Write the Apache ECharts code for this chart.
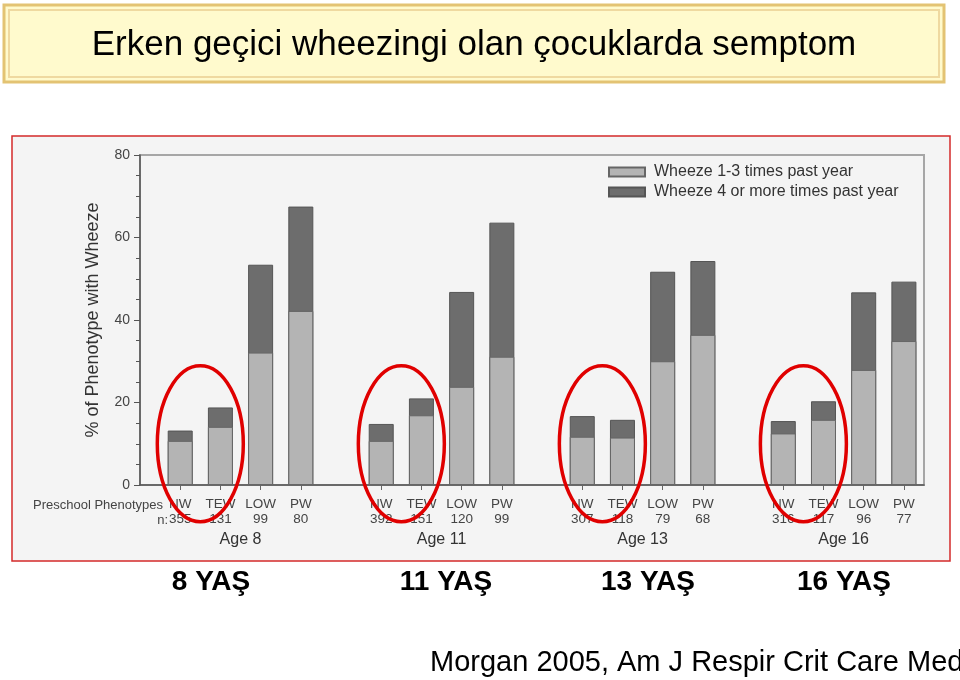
<!DOCTYPE html>
<html><head><meta charset="utf-8">
<script src="https://cdn.jsdelivr.net/npm/echarts@6/dist/echarts.min.js"></script>
<style>html,body{margin:0;padding:0;background:#fff}#c{width:960px;height:680px}</style>
</head><body><div id="c"></div>
<script>
const phenotypes = ['NW', 'TEW', 'LOW', 'PW'];
const ageLabels = ['Age 8', 'Age 11', 'Age 13', 'Age 16'];
const ageTitles = ['8 YAŞ', '11 YAŞ', '13 YAŞ', '16 YAŞ'];
const groupN = [[355, 131, 99, 80], [392, 151, 120, 99], [307, 118, 79, 68], [316, 117, 96, 77]];
const wheeze1to3 = [[10.7, 14.1, 32.1, 42.2], [10.7, 16.9, 23.8, 31.1], [11.7, 11.5, 30.0, 36.4], [12.5, 15.8, 27.9, 34.9]];
const wheeze4plus = [[2.5, 4.7, 21.3, 25.3], [4.1, 4.1, 23.0, 32.5], [5.0, 4.3, 21.7, 17.9], [3.0, 4.5, 18.8, 14.4]];
const seriesNames = ['Wheeze 1-3 times past year', 'Wheeze 4 or more times past year'];
const yTicks = [0, 20, 40, 60, 80];

// slot positions on the x axis: 4 bars per age group, one empty slot between groups
const slots = [], labelBySlot = {}, groupCenters = [];
const dLight = [], dTotal = [];
for (let g = 0; g < 4; g++) {
  for (let i = 0; i < 4; i++) {
    const s = g * 5 + i + 1;
    slots.push(s);
    labelBySlot[s] = phenotypes[i] + '\n' + groupN[g][i];
    dLight.push([s, wheeze1to3[g][i]]);
    // the "4 or more" segment sits on top of the "1-3" segment
    dTotal.push([s, +(wheeze1to3[g][i] + wheeze4plus[g][i]).toFixed(1)]);
  }
  groupCenters.push(g * 5 + 2.5);
}

const chart = echarts.init(document.getElementById('c'), null, {renderer: 'canvas'});
const FONT = 'Liberation Sans, Arial, sans-serif';

const staticGraphic = [
  {type: 'rect', id: 'bg', z: -10, shape: {x: 12, y: 136, width: 938, height: 425},
   style: {fill: '#f4f4f4', stroke: '#d42a2a', lineWidth: 1.5}},
  {type: 'rect', id: 'hdr', z: -10, shape: {x: 4, y: 5, width: 940, height: 77},
   style: {fill: '#fffacd', stroke: '#e3c373', lineWidth: 3}},
  {type: 'rect', id: 'hdr2', z: -9, shape: {x: 9, y: 10, width: 930, height: 67},
   style: {fill: 'none', stroke: '#efd9a0', lineWidth: 2}},
  {type: 'text', id: 'title', z: 10, x: 474, y: 45,
   style: {text: 'Erken geçici wheezingi olan çocuklarda semptom', font: '35px ' + FONT,
     fill: '#000', align: 'center', verticalAlign: 'middle'}},
  {type: 'text', id: 'pp', z: 10, x: 33, y: 505,
   style: {text: 'Preschool Phenotypes', font: '13px ' + FONT, fill: '#444', align: 'left', verticalAlign: 'middle'}},
  {type: 'text', id: 'nlab', z: 10, x: 168, y: 520,
   style: {text: 'n:', font: '13px ' + FONT, fill: '#444', align: 'right', verticalAlign: 'middle'}},
  {type: 'text', id: 'cite', z: 10, x: 430, y: 663,
   style: {text: 'Morgan 2005, Am J Respir Crit Care Med', font: '29px ' + FONT, fill: '#000', align: 'left', verticalAlign: 'middle'}}
];
const yasX = [211, 446, 648, 844];
ageTitles.forEach((t, k) => staticGraphic.push({type: 'text', id: 'yas' + k, z: 10, x: yasX[k], y: 582,
  style: {text: t, font: 'bold 28px ' + FONT, fill: '#000', align: 'center', verticalAlign: 'middle'}}));

const option = {
  animation: false,
  backgroundColor: '#ffffff',
  textStyle: {fontFamily: FONT},
  grid: {left: 140, right: 36, top: 155, bottom: 195, show: true, borderColor: '#a6a6a6', borderWidth: 2, backgroundColor: 'transparent'},
  legend: {
    orient: 'vertical', left: 608, top: 164, padding: 0, itemWidth: 36, itemHeight: 9, itemGap: 4,
    icon: 'rect', data: seriesNames,
    textStyle: {fontSize: 16, color: '#333', padding: [0, 0, 0, 4]}
  },
  xAxis: [{
    type: 'value', min: 0, max: 19.5, position: 'bottom',
    axisLine: {show: true, lineStyle: {color: '#555', width: 1.5}},
    axisTick: {show: true, customValues: slots, length: 5, lineStyle: {color: '#666'}},
    axisLabel: {customValues: slots, formatter: v => labelBySlot[v] || '', fontSize: 13.5, lineHeight: 15, color: '#444', margin: 12},
    splitLine: {show: false}
  }, {
    type: 'value', min: 0, max: 19.5, position: 'bottom', offset: 0,
    axisLine: {show: false}, axisTick: {show: false},
    axisLabel: {customValues: groupCenters, formatter: v => ageLabels[groupCenters.indexOf(v)] || '', fontSize: 16, color: '#333', margin: 47},
    splitLine: {show: false}
  }],
  yAxis: {
    type: 'value', min: yTicks[0], max: yTicks[yTicks.length - 1], interval: 20,
    name: '% of Phenotype with Wheeze', nameLocation: 'middle', nameGap: 38,
    nameTextStyle: {fontSize: 18, color: '#333'},
    axisLine: {show: true, lineStyle: {color: '#555', width: 1.5}},
    axisTick: {show: true, length: 6, lineStyle: {color: '#555'}},
    minorTick: {show: true, splitNumber: 4, length: 4, lineStyle: {color: '#555'}},
    axisLabel: {fontSize: 14, color: '#444', margin: 10},
    splitLine: {show: false}
  },
  series: [{
    name: seriesNames[1], type: 'bar', xAxisIndex: 0, barWidth: 25, barGap: '-100%', z: 2, data: dTotal,
    itemStyle: {color: '#6d6d6d', borderColor: '#555', borderWidth: 1}
  }, {
    name: seriesNames[0], type: 'bar', xAxisIndex: 0, barWidth: 25, barGap: '-100%', z: 3, data: dLight,
    itemStyle: {color: '#b4b4b4', borderColor: '#666', borderWidth: 1}
  }],
  graphic: staticGraphic
};
chart.setOption(option);

// red ellipses around NW/TEW bars of each age group
const ellipses = [];
for (let g = 0; g < 4; g++) {
  const p = chart.convertToPixel({xAxisIndex: 0, yAxisIndex: 0}, [g * 5 + 1.5, 10]);
  ellipses.push({type: 'ellipse', id: 'el' + g, z: 50, shape: {cx: p[0], cy: p[1], rx: 43, ry: 78},
    style: {fill: 'none', stroke: '#e00000', lineWidth: 3.5}});
}
chart.setOption({graphic: staticGraphic.concat(ellipses)});
</script></body></html>
